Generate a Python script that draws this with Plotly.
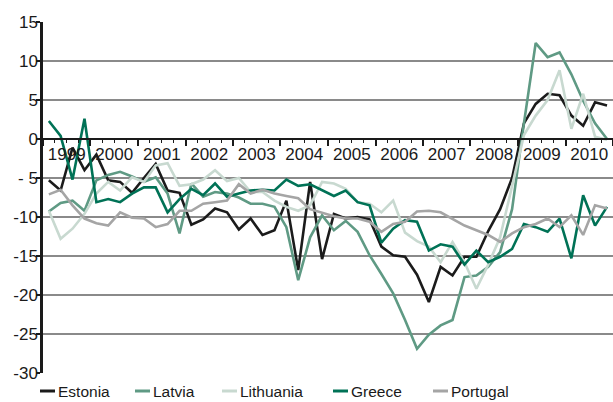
import pandas as pd
import plotly.graph_objects as go

# Quarterly series, 1999Q1 - 2010Q4
quarters = [f"{y}Q{q}" for y in range(1999, 2011) for q in range(1, 5)]

estonia = [-5.3, -6.6, -1.1, -4.0, -2.0, -5.3, -5.5, -6.9,
           -5.0, -3.2, -6.6, -6.9, -11.0, -10.3, -8.9, -9.4,
           -11.6, -10.2, -12.3, -11.7, -7.9, -16.8, -5.5, -15.4,
           -9.6, -10.2, -10.0, -10.3, -13.8, -14.9, -15.1, -17.4,
           -20.9, -16.4, -17.5, -15.1, -15.1, -11.8, -9.0, -5.0,
           2.0, 4.5, 5.8, 5.6, 3.0, 1.7, 4.7, 4.3]
latvia = [-9.3, -8.2, -7.9, -9.2, -5.3, -4.6, -4.2, -4.8,
          -5.5, -4.9, -7.0, -12.1, -5.7, -7.4, -6.8, -7.0,
          -7.5, -8.3, -8.3, -8.7, -11.3, -18.1, -12.6, -9.8,
          -11.7, -10.5, -11.9, -14.9, -17.3, -19.8, -23.2, -26.9,
          -25.1, -23.9, -23.2, -17.7, -17.5, -16.4, -14.5, -9.0,
          2.0, 12.3, 10.5, 11.1, 8.3, 4.9, 2.0, 0.0]
lithuania = [-9.2, -12.8, -11.5, -9.6, -7.0, -5.5, -6.6, -4.9,
             -5.5, -3.4, -3.1, -6.0, -5.8, -5.2, -4.0, -5.4,
             -5.0, -6.8, -6.8, -7.9, -8.7, -9.2, -8.5, -5.5,
             -5.7, -6.4, -8.1, -8.3, -9.4, -7.9, -12.0, -13.1,
             -13.8, -15.8, -13.2, -15.8, -19.2, -16.1, -12.6, -6.0,
             0.5, 3.0, 5.0, 8.8, 1.3, 5.8, 0.3, -0.1]
greece = [2.3, 0.4, -5.2, 2.6, -8.1, -7.7, -8.1, -7.0,
          -6.2, -6.2, -9.4, -7.7, -6.4, -7.2, -5.7, -7.4,
          -7.0, -6.6, -6.5, -6.6, -5.2, -6.0, -5.8, -6.6,
          -7.3, -6.6, -8.1, -8.5, -13.3, -11.5, -10.4, -10.6,
          -14.3, -13.5, -13.8, -16.1, -14.3, -15.8, -15.1, -14.1,
          -10.9, -11.3, -11.9, -10.2, -15.3, -7.2, -11.1, -8.7]
portugal = [-7.1, -6.5, -8.5, -10.2, -10.8, -11.1, -9.4, -10.1,
            -10.2, -11.3, -10.9, -9.2, -9.2, -8.3, -8.1, -7.9,
            -5.8, -7.0, -6.5, -7.0, -7.3, -7.6, -9.0, -9.5,
            -9.9, -10.2, -10.2, -10.6, -11.9, -10.9, -10.6, -9.3,
            -9.2, -9.4, -10.2, -11.1, -11.7, -12.3, -13.2, -12.1,
            -11.3, -10.9, -10.2, -11.3, -9.8, -12.3, -8.5, -8.9]

series_names = ["Estonia", "Latvia", "Lithuania", "Greece", "Portugal"]
series_values = [estonia, latvia, lithuania, greece, portugal]
series_colors = ["#1b1b1b", "#5f9a84", "#c8d9d0", "#007256", "#a5a5a5"]

y_tick_values = [-30, -25, -20, -15, -10, -5, 0, 5, 10, 15]
y_tick_labels = ["-30", "-25", "-20", "-15", "-10", "- 5", "0", "5", "10", "15"]

# place each quarter at the middle of its period
periods = pd.PeriodIndex(quarters, freq="Q")
x_mid = periods.start_time + (periods.end_time - periods.start_time) / 2

FONT = "Liberation Sans, Arial, Helvetica, sans-serif"
W, H = 613, 402
M_L, M_R, M_T, M_B = 43, 0, 22, 29

fig = go.Figure()
for name, vals, col in zip(series_names, series_values, series_colors):
    fig.add_trace(go.Scatter(x=x_mid, y=vals, name=name, mode="lines",
                             line=dict(color=col, width=2.6),
                             showlegend=False))

y_min, y_max = -30, 15

fig.update_layout(
    width=W, height=H,
    margin=dict(l=M_L, r=M_R, t=M_T, b=M_B, pad=0),
    paper_bgcolor="white", plot_bgcolor="white",
    font=dict(family=FONT, size=17, color="#1a1a1a"),
    xaxis=dict(
        type="date",
        range=["1999-01-01", "2011-01-01"],
        tick0="1999-01-01", dtick="M12",
        tickformat="%Y", ticklabelmode="period",
        ticks="outside", ticklen=6, tickwidth=1.5, tickcolor="#1a1a1a",
        minor=dict(dtick="M3", ticks="outside", ticklen=3,
                   tickwidth=1, tickcolor="#1a1a1a", showgrid=False),
        showline=True, linecolor="#1a1a1a", linewidth=2,
        showgrid=False, zeroline=False,
        anchor="free", position=(0 - y_min) / (y_max - y_min),
        tickfont=dict(size=17),
        ticklabelstandoff=-6,
    ),
    yaxis=dict(
        range=[y_min, y_max],
        tickvals=y_tick_values, ticktext=y_tick_labels,
        ticks="outside", ticklen=4, tickwidth=1.5, tickcolor="#1a1a1a",
        showline=True, linecolor="#1a1a1a", linewidth=2.5,
        showgrid=True, gridcolor="#8a8a8a", gridwidth=1.5,
        zeroline=False,
        tickfont=dict(size=17),
        ticklabelstandoff=-5,
    ),
)

# legend drawn below the plot: short coloured stroke followed by the name
plot_w = W - M_L - M_R
plot_h = H - M_T - M_B


def px_x(px):
    return (px - M_L) / plot_w


def px_y(py):
    return (H - M_B - py) / plot_h


legend_starts = [40, 135, 222, 333, 433]
legend_y = 391
for name, col, x0 in zip(series_names, series_colors, legend_starts):
    fig.add_shape(type="line", xref="paper", yref="paper",
                  x0=px_x(x0), x1=px_x(x0 + 15),
                  y0=px_y(legend_y), y1=px_y(legend_y),
                  line=dict(color=col, width=3))
    fig.add_annotation(text=name, xref="paper", yref="paper",
                       x=px_x(x0 + 16), y=px_y(legend_y),
                       xanchor="left", yanchor="middle", showarrow=False,
                       font=dict(family=FONT, size=15.5, color="#1a1a1a"))

fig.write_html("out.html")
